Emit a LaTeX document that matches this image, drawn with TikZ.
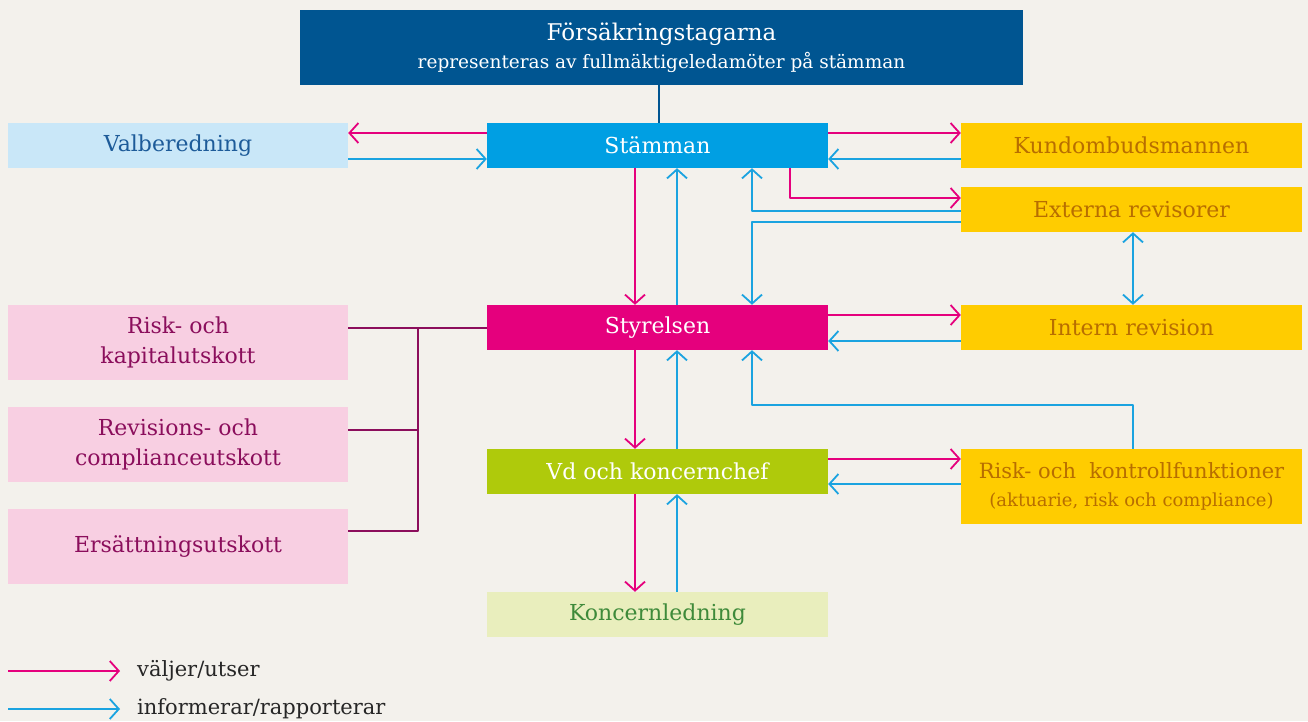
\documentclass[tikz,border=0pt]{standalone}
\usepackage{fontspec}
\setmainfont{DejaVu Serif}
\usetikzlibrary{arrows.meta,positioning}
\definecolor{bakgrund}{HTML}{F3F1EC}
\definecolor{morkbla}{HTML}{005591}
\definecolor{bla}{HTML}{009FE3}
\definecolor{ljusbla}{HTML}{C9E7F8}
\definecolor{blatext}{HTML}{1D5B99}
\definecolor{gul}{HTML}{FFCC00}
\definecolor{gultext}{HTML}{B86E00}
\definecolor{magenta}{HTML}{E5007D}
\definecolor{rosa}{HTML}{F8CFE2}
\definecolor{lila}{HTML}{8B0E5C}
\definecolor{gron}{HTML}{AFCA0B}
\definecolor{ljusgron}{HTML}{E9EEBD}
\definecolor{grontext}{HTML}{3E8A3A}
\definecolor{pilbla}{HTML}{1AA3E0}
\tikzset{pil/.tip={Straight Barb[length=9pt,width=20pt]}}
\begin{document}
\begin{tikzpicture}[x=1pt,y=-1pt,line join=round,
	ruta/.style={minimum width=341pt,minimum height=45pt,inner sep=0pt,align=center,font=\fontsize{22}{30}\selectfont},
	hog/.style={ruta,minimum height=75pt},
	val/.style={draw=magenta,line width=1.8pt,-pil},
	info/.style={draw=pilbla,line width=1.8pt,-pil},
	utskott/.style={draw=lila,line width=1.8pt}]
	\fill[bakgrund] (0,0) rectangle (1308,721);
	\useasboundingbox (0,0) rectangle (1308,721);
	\node[ruta,minimum width=723pt,minimum height=75pt,fill=morkbla,text=white,font=\fontsize{23}{28}\selectfont] (tagare) at (661.5,47.5) {F\"ors\"akringstagarna\\{\fontsize{18.5}{20}\selectfont representeras av fullm\"aktigeledam\"oter p\aa{} st\"amman}};
	\node[ruta,fill=bla,text=white] (stamma) at (657.5,145.5) {St\"amman};
	\node[ruta,minimum width=340pt,fill=ljusbla,text=blatext] (valb) at (178,145.5) {Valberedning};
	\node[ruta,fill=gul,text=gultext] (kund) at (1131.5,145.5) {Kundombudsmannen};
	\node[ruta,fill=gul,text=gultext] (extern) at (1131.5,209.5) {Externa revisorer};
	\node[ruta,fill=gul,text=gultext] (intern) at (1131.5,327.5) {Intern revision};
	\node[ruta,fill=magenta,text=white] (styr) at (657.5,327.5) {Styrelsen};
	\node[hog,minimum width=340pt,fill=rosa,text=lila] (riskkap) at (178,342.5) {Risk- och\\kapitalutskott};
	\node[hog,minimum width=340pt,fill=rosa,text=lila] (revcomp) at (178,444.5) {Revisions- och\\complianceutskott};
	\node[hog,minimum width=340pt,fill=rosa,text=lila] (ersatt) at (178,546.5) {Ers\"attningsutskott};
	\node[ruta,fill=gron,text=white] (vd) at (657.5,471.5) {Vd och koncernchef};
	\node[hog,fill=gul,text=gultext,font=\fontsize{21}{28}\selectfont] (kontroll) at (1131.5,486.5) {Risk- och~ kontrollfunktioner\\{\fontsize{18}{20}\selectfont (aktuarie, risk och compliance)}};
	\node[ruta,fill=ljusgron,text=grontext] (koncern) at (657.5,614.5) {Koncernledning};
	\coordinate (samla) at (418,328);

	\draw[morkbla,line width=1.8pt] ([xshift=1.5pt]stamma.north) -- ([xshift=1.5pt]stamma.north |- tagare.south);
	\draw[val] ([yshift=12.5pt]stamma.west) -- ([yshift=12.5pt]stamma.west -| valb.east);
	\draw[info] ([yshift=-13.5pt]valb.east) -- ([yshift=-13.5pt]valb.east -| stamma.west);
	\draw[val] ([yshift=12.5pt]stamma.east) -- ([yshift=12.5pt]stamma.east -| kund.west);
	\draw[info] ([yshift=-13.5pt]kund.west) -- ([yshift=-13.5pt]kund.west -| stamma.east);
	\draw[val] ([xshift=132.5pt]stamma.south) |- ([yshift=11.5pt]extern.west);
	\draw[info] ([yshift=-1.5pt]extern.west) -| ([xshift=94.5pt]stamma.south);
	\draw[info] ([yshift=-12.5pt]extern.west) -| ([xshift=94.5pt]styr.north);
	\draw[info,pil-pil] ([xshift=1.5pt]extern.south) -- ([xshift=1.5pt]intern.north);
	\draw[val] ([xshift=-22.5pt]stamma.south) -- ([xshift=-22.5pt]styr.north);
	\draw[info] ([xshift=19.5pt]styr.north) -- ([xshift=19.5pt]stamma.south);
	\draw[val] ([yshift=12.5pt]styr.east) -- ([yshift=12.5pt]styr.east -| intern.west);
	\draw[info] ([yshift=-13.5pt]intern.west) -- ([yshift=-13.5pt]intern.west -| styr.east);
	\draw[utskott] (riskkap.east |- samla) -- (samla -| styr.west);
	\draw[utskott] ([yshift=14.5pt]revcomp.east) -- ([yshift=14.5pt]revcomp.east -| samla);
	\draw[utskott] ([yshift=15.5pt]ersatt.east) -| (samla);
	\draw[val] ([xshift=-22.5pt]styr.south) -- ([xshift=-22.5pt]vd.north);
	\draw[info] ([xshift=19.5pt]vd.north) -- ([xshift=19.5pt]styr.south);
	\draw[info] ([xshift=1.5pt]kontroll.north) |- ([xshift=94.5pt,yshift=-55pt]styr.south) -- ([xshift=94.5pt]styr.south);
	\draw[val] ([yshift=12.5pt]vd.east) -- ([yshift=12.5pt]vd.east -| kontroll.west);
	\draw[info] ([yshift=-12.5pt]vd.east -| kontroll.west) -- ([yshift=-12.5pt]vd.east);
	\draw[val] ([xshift=-22.5pt]vd.south) -- ([xshift=-22.5pt]koncern.north);
	\draw[info] ([xshift=19.5pt]koncern.north) -- ([xshift=19.5pt]vd.south);

	\node[anchor=west,inner sep=0pt,text=black!85,font=\fontsize{21}{24}\selectfont] (leg1) at (137,671) {v\"aljer/utser};
	\node[anchor=west,inner sep=0pt,text=black!85,font=\fontsize{21}{24}\selectfont] (leg2) at (137,709) {informerar/rapporterar};
	\draw[val] ([xshift=-129pt]leg1.west) -- ([xshift=-17pt]leg1.west);
	\draw[info] ([xshift=-129pt]leg2.west) -- ([xshift=-17pt]leg2.west);
\end{tikzpicture}
\end{document}
